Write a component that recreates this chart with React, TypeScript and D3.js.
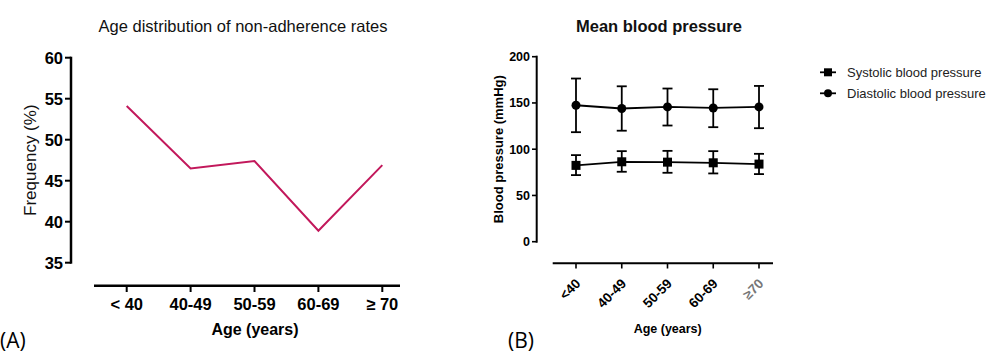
import React from "react";
import * as d3 from "d3";

const ageGroupsA = ["< 40", "40-49", "50-59", "60-69", "\u2265 70"];
const nonAdherence = [54.1, 46.5, 47.4, 38.9, 46.9];
const yTicksA = [35, 40, 45, 50, 55, 60];

const ageGroupsB = ["<40", "40-49", "50-59", "60-69", "\u226570"];
const systolicMean = [82.5, 86.4, 86.0, 85.3, 83.9];
const systolicLow = [72.0, 75.6, 74.5, 73.8, 73.1];
const systolicHigh = [93.6, 97.9, 98.2, 97.9, 95.0];
const diastolicMean = [147.5, 144.0, 145.7, 144.6, 145.7];
const diastolicLow = [118.4, 120.0, 125.6, 123.8, 122.7];
const diastolicHigh = [176.4, 168.0, 165.6, 164.8, 168.4];
const yTicksB = [0, 50, 100, 150, 200];
const legendLabels = ["Systolic blood pressure", "Diastolic blood pressure"];

const ARIAL = "'Liberation Sans', Arial, sans-serif";
const NARROW = "'Liberation Sans Narrow', 'Liberation Sans', Arial, sans-serif";

function PanelA() {
  const x = d3.scalePoint<string>().domain(ageGroupsA).range([126.7, 382.3]);
  const y = d3.scaleLinear().domain([35, 60]).range([262.7, 57.7]);
  const line = d3
    .line<number>()
    .x((_, i) => x(ageGroupsA[i]) as number)
    .y((d) => y(d));
  return (
    <g>
      <text x={243} y={32} textAnchor="middle" fontFamily={ARIAL} fontSize={16.5} fill="#111">
        Age distribution of non-adherence rates
      </text>
      <line x1={71} x2={71} y1={y(60) - 1} y2={y(35) + 1} stroke="#000" strokeWidth={2.5} />
      {yTicksA.map((t) => (
        <g key={t}>
          <line x1={65} x2={71} y1={y(t)} y2={y(t)} stroke="#000" strokeWidth={2} />
          <text x={63} y={y(t)} dy="0.36em" textAnchor="end" fontFamily={ARIAL} fontWeight="bold" fontSize={16.5} fill="#000">
            {t}
          </text>
        </g>
      ))}
      <text
        transform={`translate(36,${y(47.5)}) rotate(-90)`}
        textAnchor="middle"
        fontFamily={ARIAL}
        fontSize={17}
        fill="#111"
      >
        Frequency (%)
      </text>
      <line x1={94} x2={400} y1={285.7} y2={285.7} stroke="#000" strokeWidth={2.5} />
      {ageGroupsA.map((g) => (
        <g key={g}>
          <line x1={x(g)} x2={x(g)} y1={285.7} y2={292} stroke="#000" strokeWidth={2} />
          <text x={x(g)} y={310} textAnchor="middle" fontFamily={ARIAL} fontWeight="bold" fontSize={16.5} fill="#000">
            {g}
          </text>
        </g>
      ))}
      <text x={255} y={335} textAnchor="middle" fontFamily={ARIAL} fontWeight="bold" fontSize={16} fill="#000">
        Age (years)
      </text>
      <path d={line(nonAdherence) || ""} fill="none" stroke="#C2185B" strokeWidth={2} />
      <text x={0} y={348} fontFamily="'Open Sans', 'Noto Sans', sans-serif" fontSize={21} fill="#000">
        (A)
      </text>
    </g>
  );
}

function PanelB() {
  const x = d3.scalePoint<string>().domain(ageGroupsB).range([576, 759]);
  const y = d3.scaleLinear().domain([0, 200]).range([241.7, 56.7]);
  const line = d3
    .line<number>()
    .x((_, i) => x(ageGroupsB[i]) as number)
    .y((d) => y(d));
  const cap = 5;
  const errorBars = (lo: number[], hi: number[], key: string) =>
    ageGroupsB.map((g, i) => {
      const cx = x(g) as number;
      return (
        <g key={key + i} stroke="#000" strokeWidth={1.8}>
          <line x1={cx} x2={cx} y1={y(lo[i])} y2={y(hi[i])} />
          <line x1={cx - cap} x2={cx + cap} y1={y(lo[i])} y2={y(lo[i])} />
          <line x1={cx - cap} x2={cx + cap} y1={y(hi[i])} y2={y(hi[i])} />
        </g>
      );
    });
  return (
    <g>
      <text x={659} y={32} textAnchor="middle" fontFamily={NARROW} fontWeight="bold" fontSize={16.5} fill="#111">
        Mean blood pressure
      </text>
      <line x1={536.7} x2={536.7} y1={y(200) - 1} y2={y(0) + 1} stroke="#000" strokeWidth={2} />
      {yTicksB.map((t) => (
        <g key={t}>
          <line x1={532} x2={536.7} y1={y(t)} y2={y(t)} stroke="#000" strokeWidth={1.6} />
          <text x={530} y={y(t)} dy="0.35em" textAnchor="end" fontFamily={NARROW} fontWeight="bold" fontSize={12.5} fill="#000">
            {t}
          </text>
        </g>
      ))}
      <text
        transform={`translate(503,${y(100)}) rotate(-90)`}
        textAnchor="middle"
        fontFamily={NARROW}
        fontWeight="bold"
        fontSize={13}
        fill="#000"
      >
        Blood pressure (mmHg)
      </text>
      <line x1={552.7} x2={773} y1={263.3} y2={263.3} stroke="#000" strokeWidth={2} />
      {ageGroupsB.map((g, i) => {
        const cx = x(g) as number;
        return (
          <g key={g}>
            <line x1={cx} x2={cx} y1={263.3} y2={268.5} stroke="#000" strokeWidth={1.6} />
            <text
              transform={`translate(${cx + 2},${281}) rotate(-45)`}
              textAnchor="end"
              dy="0.35em"
              fontFamily={NARROW}
              fontWeight="bold"
              fontSize={13.5}
              fill={i === 4 ? "#777" : "#000"}
            >
              {g}
            </text>
          </g>
        );
      })}
      <text x={667.7} y={333} textAnchor="middle" fontFamily={NARROW} fontWeight="bold" fontSize={12.5} fill="#000">
        Age (years)
      </text>
      {errorBars(diastolicLow, diastolicHigh, "d")}
      {errorBars(systolicLow, systolicHigh, "s")}
      <path d={line(diastolicMean) || ""} fill="none" stroke="#000" strokeWidth={1.8} />
      <path d={line(systolicMean) || ""} fill="none" stroke="#000" strokeWidth={1.8} />
      {ageGroupsB.map((g, i) => (
        <circle key={"c" + i} cx={x(g)} cy={y(diastolicMean[i])} r={4.5} fill="#000" />
      ))}
      {ageGroupsB.map((g, i) => (
        <rect key={"r" + i} x={(x(g) as number) - 4.5} y={y(systolicMean[i]) - 4.5} width={9} height={9} fill="#000" />
      ))}
      {legendLabels.map((lab, i) => {
        const ly = 72.3 + i * 21;
        return (
          <g key={lab}>
            <line x1={820} x2={836} y1={ly} y2={ly} stroke="#000" strokeWidth={1.8} />
            {i === 0 ? (
              <rect x={824} y={ly - 4} width={8} height={8} fill="#000" />
            ) : (
              <circle cx={828} cy={ly} r={4} fill="#000" />
            )}
            <text x={847} y={ly} dy="0.35em" fontFamily={ARIAL} fontSize={13} fill="#222">
              {lab}
            </text>
          </g>
        );
      })}
      <text x={508} y={348} fontFamily="'Open Sans', 'Noto Sans', sans-serif" fontSize={21} fill="#000">
        (B)
      </text>
    </g>
  );
}

export default function App() {
  return (
    <svg
      width={1000}
      height={354}
      style={{ position: "absolute", left: 0, top: 0, background: "#fff" }}
    >
      <rect width={1000} height={354} fill="#fff" />
      <PanelA />
      <PanelB />
    </svg>
  );
}
